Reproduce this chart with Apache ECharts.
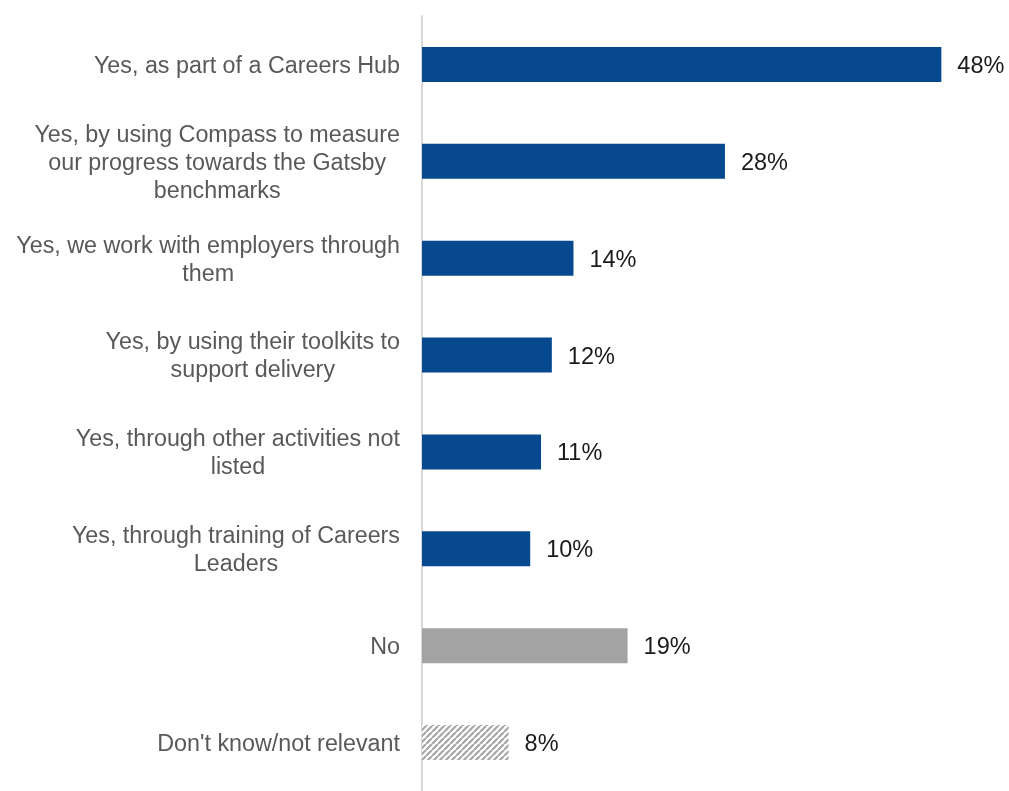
<!DOCTYPE html>
<html>
<head>
<meta charset="utf-8">
<script src="https://cdn.jsdelivr.net/npm/echarts@6/dist/echarts.min.js"></script>
<style>
  html, body { margin: 0; padding: 0; background: #fff; }
  #chart { width: 1009px; height: 791px; }
</style>
</head>
<body>
<div id="chart"></div>
<script>
// Response categories (top to bottom) and the share of respondents for each
const categories = [
  'Yes, as part of a Careers Hub',
  'Yes, by using Compass to measure\nour progress towards the Gatsby\nbenchmarks',
  'Yes, we work with employers through\nthem',
  'Yes, by using their toolkits to\nsupport delivery',
  'Yes, through other activities not\nlisted',
  'Yes, through training of Careers\nLeaders',
  'No',
  "Don't know/not relevant"
];
const values = [48, 28, 14, 12, 11, 10, 19, 8];
// 'yes' answers in blue, 'no' in grey, 'don't know' hatched
const kinds = ['yes', 'yes', 'yes', 'yes', 'yes', 'yes', 'no', 'unknown'];

// Diagonal hatch fill for the "don't know" bar
function hatchPattern() {
  const size = 6;
  const c = document.createElement('canvas');
  c.width = size; c.height = size;
  const ctx = c.getContext('2d');
  ctx.fillStyle = '#ffffff';
  ctx.fillRect(0, 0, size, size);
  ctx.strokeStyle = '#a6a6a6';
  ctx.lineWidth = 2.2;
  ctx.beginPath();
  for (let k = -1; k <= 1; k++) {
    ctx.moveTo(k * size, size);
    ctx.lineTo(k * size + size, 0);
  }
  ctx.stroke();
  return { image: c, repeat: 'repeat' };
}

const fills = { yes: '#06498f', no: '#a3a3a3', unknown: hatchPattern() };
const FONT = '"Liberation Sans", Arial, sans-serif';

const chart = echarts.init(document.getElementById('chart'), null, { renderer: 'canvas' });
chart.setOption({
  animation: false,
  grid: { left: 422, right: 46, top: 16, height: 784, containLabel: false },
  xAxis: {
    type: 'value', min: 0, max: 50,
    show: false
  },
  yAxis: {
    type: 'category',
    inverse: true,
    data: categories,
    axisLine: { show: true, lineStyle: { color: '#d9d9d9', width: 2 } },
    axisTick: { show: false },
    axisLabel: {
      margin: 22,
      align: 'right',
      padding: [4, 0, 0, 0],
      // each wrapped line is centred within the right-aligned label block
      formatter: (v) => v.split('\n').map((line) => '{c|' + line + '}').join('\n'),
      rich: {
        c: {
          align: 'center',
          color: '#595959',
          fontFamily: FONT,
          fontSize: 23.3,
          lineHeight: 28
        }
      }
    }
  },
  series: [{
    type: 'bar',
    barWidth: 35,
    data: values.map((v, i) => ({ value: v, itemStyle: { color: fills[kinds[i]] } })),
    label: {
      show: true,
      position: 'right',
      distance: 16,
      offset: [0, 2],
      formatter: '{c}%',
      color: '#1a1a1a',
      fontFamily: FONT,
      fontSize: 23.5
    }
  }]
});
</script>
</body>
</html>
